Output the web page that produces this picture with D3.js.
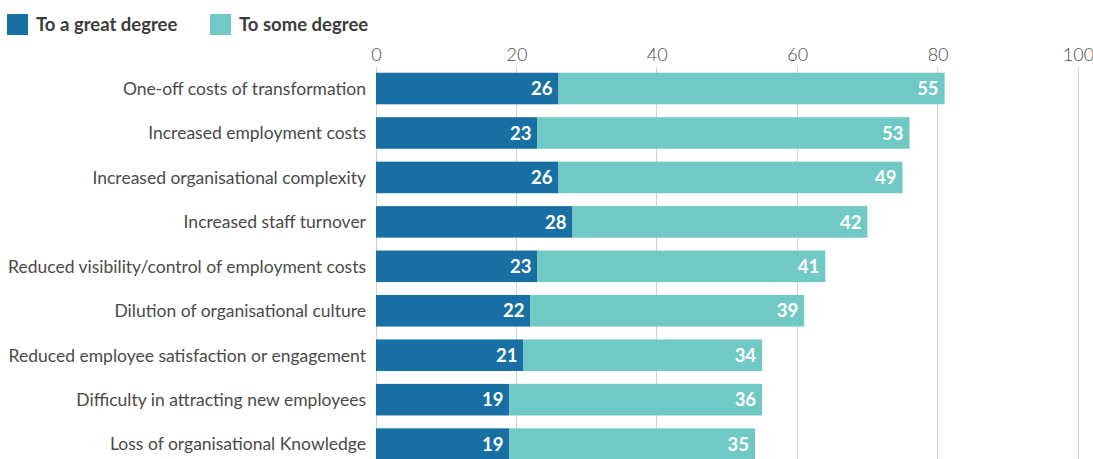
<!DOCTYPE html>
<html>
<head>
<meta charset="utf-8">
<script src="https://cdn.jsdelivr.net/npm/d3@7"></script>
<style>
  html, body { margin: 0; padding: 0; background: #fff; }
  svg text { font-family: Lato, "Open Sans", sans-serif; }
</style>
</head>
<body>
<svg id="chart" width="1093" height="459"></svg>
<script>
// Survey responses: share of respondents citing each downside
const categories = [
  "One-off costs of transformation",
  "Increased employment costs",
  "Increased organisational complexity",
  "Increased staff turnover",
  "Reduced visibility/control of employment costs",
  "Dilution of organisational culture",
  "Reduced employee satisfaction or engagement",
  "Difficulty in attracting new employees",
  "Loss of organisational Knowledge"
];
const greatDegree = [26, 23, 26, 28, 23, 22, 21, 19, 19];
const someDegree  = [55, 53, 49, 42, 41, 39, 34, 36, 35];
const seriesNames = ["To a great degree", "To some degree"];
const tickValues  = [0, 20, 40, 60, 80, 100];

const colors = ["#176fa3", "#70c9c5"];
const textColor = "#4a4a4a";

const svg = d3.select("#chart");
const margin = { left: 376, right: 15, top: 67 };
const width = 1093;

const x = d3.scaleLinear().domain([0, 100]).range([margin.left, width - margin.right]);
const y = d3.scaleBand().domain(categories)
  .range([66.3, 66.3 + 44.45 * categories.length])
  .paddingInner(0.29).paddingOuter(0.145);

// Vertical grid lines
svg.append("g")
  .selectAll("line")
  .data(tickValues)
  .join("line")
  .attr("x1", d => x(d)).attr("x2", d => x(d))
  .attr("y1", margin.top).attr("y2", 459)
  .attr("stroke", "#d2d2d2").attr("stroke-width", 1)
  .attr("shape-rendering", "crispEdges");

// Top axis tick labels
const axis = svg.append("g")
  .attr("transform", `translate(0,${margin.top - 6})`)
  .call(d3.axisTop(x).tickValues(tickValues).tickSize(0).tickPadding(0));
axis.select(".domain").remove();
axis.selectAll("text")
  .attr("fill", "#4a4a4a")
  .style("font-size", "18px")
  .style("font-weight", 300)
  .style("font-family", "Lato, sans-serif");

// Stacked bars
const rows = categories.map((c, i) => ({ cat: c, a: greatDegree[i], b: someDegree[i] }));
const stack = d3.stack().keys(["a", "b"])(rows);

const layers = svg.append("g").selectAll("g")
  .data(stack)
  .join("g")
  .attr("fill", (d, i) => colors[i]);

layers.selectAll("rect")
  .data(d => d)
  .join("rect")
  .attr("x", d => x(d[0]))
  .attr("width", d => x(d[1]) - x(d[0]))
  .attr("y", d => y(d.data.cat))
  .attr("height", y.bandwidth());

// Value labels inside bar ends
layers.selectAll("text")
  .data(d => d)
  .join("text")
  .attr("x", d => x(d[1]) - 6)
  .attr("y", d => y(d.data.cat) + y.bandwidth() / 2)
  .attr("dy", "0.36em")
  .attr("text-anchor", "end")
  .attr("fill", "#fff")
  .style("font-size", "18.5px")
  .style("font-weight", 700)
  .text(d => d[1] - d[0]);

// Category labels
svg.append("g").selectAll("text")
  .data(categories)
  .join("text")
  .attr("x", margin.left - 10)
  .attr("y", d => y(d) + y.bandwidth() / 2)
  .attr("dy", "0.36em")
  .attr("text-anchor", "end")
  .attr("fill", textColor)
  .style("font-size", "17.5px")
  .style("font-weight", 400)
  .text(d => d);

// Legend
const legendX = [7, 210];
const legend = svg.append("g").selectAll("g")
  .data(seriesNames)
  .join("g")
  .attr("transform", (d, i) => `translate(${legendX[i]},14)`);
legend.append("rect")
  .attr("width", 21).attr("height", 21)
  .attr("fill", (d, i) => colors[i]);
legend.append("text")
  .attr("x", 29).attr("y", 10.5).attr("dy", "0.36em")
  .attr("fill", "#3c3c3c")
  .style("font-size", "18.5px")
  .style("font-weight", 700)
  .text(d => d);
</script>
</body>
</html>
